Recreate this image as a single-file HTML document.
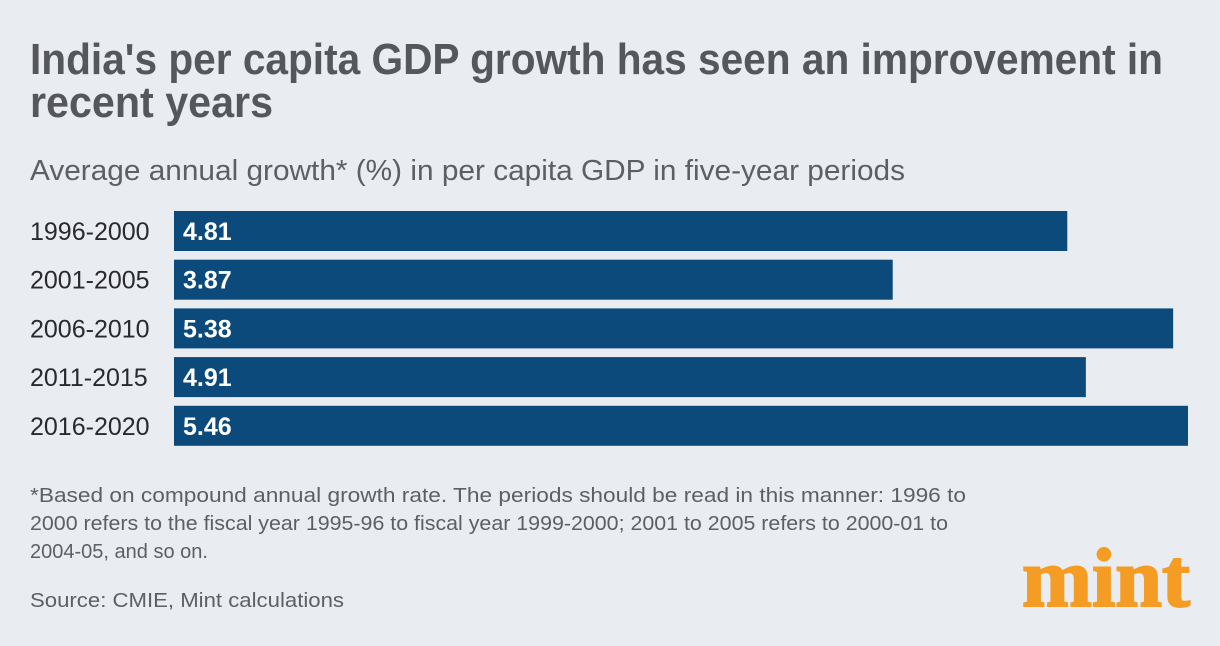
<!DOCTYPE html>
<html><head><meta charset="utf-8"><style>
html,body{margin:0;padding:0;background:#e9ecf1;}
svg{display:block;}
</style></head><body>
<svg width="1220" height="646" xmlns="http://www.w3.org/2000/svg" font-family="Liberation Sans, sans-serif">
<rect width="1220" height="646" fill="#e9ecf1"/>
<text x="30" y="74" font-size="44" font-weight="bold" fill="#56575a" textLength="1133" lengthAdjust="spacingAndGlyphs">India's per capita GDP growth has seen an improvement in</text>
<text x="30" y="117" font-size="44" font-weight="bold" fill="#56575a" textLength="243" lengthAdjust="spacingAndGlyphs">recent years</text>
<text x="30" y="180" font-size="29" fill="#5e5f62" textLength="875" lengthAdjust="spacingAndGlyphs">Average annual growth* (%) in per capita GDP in five-year periods</text>
<g id="bars"></g>
<text x="30" y="502" font-size="20" fill="#5e5f62" textLength="936" lengthAdjust="spacingAndGlyphs">*Based on compound annual growth rate. The periods should be read in this manner: 1996 to</text>
<text x="30" y="530" font-size="20" fill="#5e5f62" textLength="918" lengthAdjust="spacingAndGlyphs">2000 refers to the fiscal year 1995-96 to fiscal year 1999-2000; 2001 to 2005 refers to 2000-01 to</text>
<text x="30" y="558" font-size="20" fill="#5e5f62">2004-05, and so on.</text>
<text x="30" y="607" font-size="20" fill="#5e5f62" textLength="314" lengthAdjust="spacingAndGlyphs">Source: CMIE, Mint calculations</text>
<text x="1022" y="606" font-family="Liberation Serif, serif" font-weight="bold" font-size="84" fill="#f49c23" stroke="#f49c23" stroke-width="2" textLength="168" lengthAdjust="spacingAndGlyphs">mint</text>
</svg>
<script>
const categories = ["1996-2000","2001-2005","2006-2010","2011-2015","2016-2020"];
const values = [4.81,3.87,5.38,4.91,5.46];
const labels = ["4.81","3.87","5.38","4.91","5.46"];
const NS="http://www.w3.org/2000/svg";
const g=document.getElementById('bars');
const x0=174, pxPerUnit=1014/5.46;
function xScale(v){return x0+v*pxPerUnit;}
function yScale(i){return 211+i*48.7;}
const bh=40;
categories.forEach((c,i)=>{
  const y=yScale(i);
  const r=document.createElementNS(NS,'rect');
  r.setAttribute('x',x0);r.setAttribute('y',y);
  r.setAttribute('width',xScale(values[i])-x0);r.setAttribute('height',bh);
  r.setAttribute('fill','#0c4a7b');
  
  
  g.appendChild(r);
  const t=document.createElementNS(NS,'text');
  t.setAttribute('x',30);t.setAttribute('y',y+bh/2+9);
  t.setAttribute('font-size','25');t.setAttribute('fill','#2a2a2c');
  t.textContent=c;
  
  
  g.appendChild(t);
  const v=document.createElementNS(NS,'text');
  v.setAttribute('x',183);v.setAttribute('y',y+bh/2+9);
  v.setAttribute('font-size','25');v.setAttribute('font-weight','bold');v.setAttribute('fill','#ffffff');
  v.textContent=labels[i];
  
  
  g.appendChild(v);
});
</script>
</body></html>
